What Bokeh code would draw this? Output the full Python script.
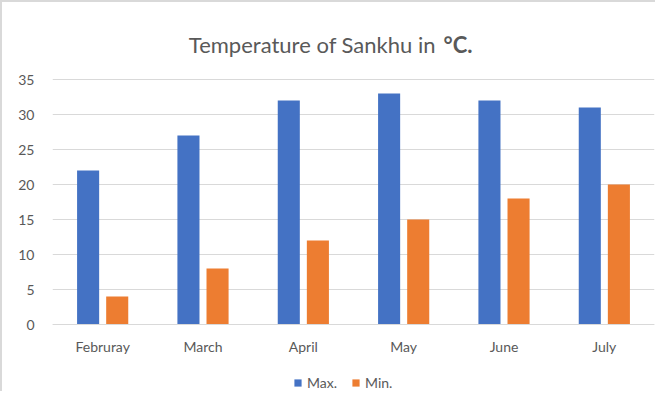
from bokeh.plotting import figure
from bokeh.models import (Label, Legend, LegendItem, FactorRange, Range1d,
                          FixedTicker, ColumnDataSource)
from bokeh.transform import dodge
from bokeh.embed import file_html
from bokeh.resources import INLINE

months = ["Februray", "March", "April", "May", "June", "July"]
max_temp = [22, 27, 32, 33, 32, 31]
min_temp = [4, 8, 12, 15, 18, 20]
series = ["Max.", "Min."]
y_ticks = [0, 5, 10, 15, 20, 25, 30, 35]
title_main = "Temperature of Sankhu in "
title_unit = "°C."

FONT = "Lato"
GRAY = "#595959"
GRID = "#d9d9d9"

src = ColumnDataSource(dict(month=months, mx=max_temp, mn=min_temp))

# The frame covers title and legend areas too; ticks/grid stop at 35 and
# the category axis sits at y = 0.
p = figure(x_range=FactorRange(*months), y_range=Range1d(-69 / 7, 314 / 7),
           width=655, height=391, output_backend="svg", toolbar_location=None,
           min_border_left=50, min_border_right=3, min_border_top=8,
           min_border_bottom=0)
p.outline_line_color = None
p.styles = {"border-left": "2px solid #d9d9d9", "border-top": "2px solid #d9d9d9"}

r1 = p.vbar(x=dodge("month", -0.145, range=p.x_range), top="mx", width=0.22,
            source=src, fill_color="#4472C4", line_color=None)
r2 = p.vbar(x=dodge("month", 0.145, range=p.x_range), top="mn", width=0.22,
            source=src, fill_color="#ED7D31", line_color=None)

p.xgrid.grid_line_color = None
p.ygrid.grid_line_color = GRID
p.ygrid.ticker = FixedTicker(ticks=y_ticks)
p.yaxis.ticker = FixedTicker(ticks=y_ticks)

for ax in (p.xaxis, p.yaxis):
    ax.major_tick_line_color = None
    ax.minor_tick_line_color = None
    ax.major_label_text_font = FONT
    ax.major_label_text_font_size = "14px"
    ax.major_label_text_color = GRAY
p.yaxis.axis_line_color = None
p.xaxis.axis_line_color = GRID
p.xaxis.fixed_location = 0
p.yaxis.major_label_standoff = 12
p.xaxis.major_label_standoff = 7

legend = Legend(items=[LegendItem(label=series[0], renderers=[r1]),
                       LegendItem(label=series[1], renderers=[r2])],
                orientation="horizontal", location=(241, 2),
                glyph_width=9, glyph_height=9, label_text_font=FONT,
                label_text_font_size="14px", label_text_color=GRAY,
                border_line_color=None, background_fill_color=None,
                padding=0, margin=0, spacing=14, label_standoff=5)
p.add_layout(legend)

t1 = Label(x=389, y=349, x_units="screen", y_units="screen", text=title_main,
           text_align="right", text_baseline="alphabetic", text_font=FONT,
           text_font_size="22px", text_color=GRAY)
t2 = Label(x=391, y=349, x_units="screen", y_units="screen", text=title_unit,
           text_align="left", text_baseline="alphabetic", text_font=FONT,
           text_font_size="22px", text_color=GRAY, text_font_style="bold")
p.add_layout(t1)
p.add_layout(t2)

open("out.html", "w").write(file_html(p, INLINE))
